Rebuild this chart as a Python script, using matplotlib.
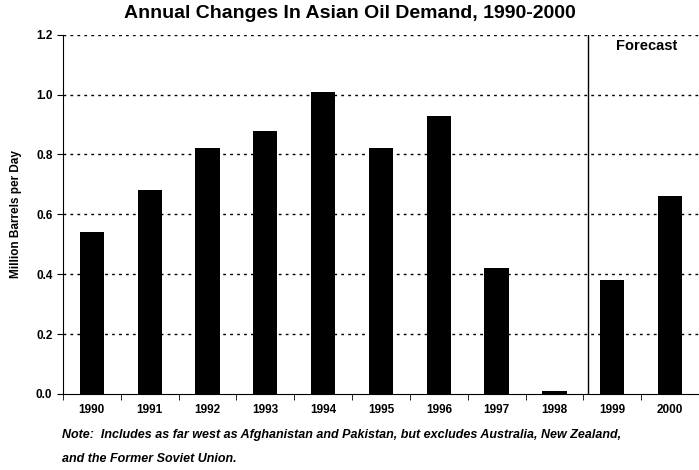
import matplotlib.pyplot as plt
import numpy as np

years = ['1990', '1991', '1992', '1993', '1994', '1995', '1996', '1997', '1998', '1999', '2000']
demand = [0.54, 0.68, 0.82, 0.88, 1.01, 0.82, 0.93, 0.42, 0.01, 0.38, 0.66]
yticks = [0.0, 0.2, 0.4, 0.6, 0.8, 1.0, 1.2]

plt.rcParams['font.family'] = ['Liberation Sans', 'DejaVu Sans']

fig = plt.figure(figsize=(6.99, 4.70), dpi=100)
ax = fig.add_axes([0.090, 0.162, 0.910, 0.764])

x = np.arange(len(years))
ax.bar(x, demand, width=0.42, color='black', zorder=3)

ax.set_xlim(-0.5, len(years) - 0.5)
ax.set_ylim(0, 1.2)
ax.set_yticks(yticks)
ax.set_yticklabels(['%.1f' % v for v in yticks], fontsize=8.5, fontweight='bold')
ax.set_xticks(x)
ax.set_xticklabels(years, fontsize=8.5, fontweight='bold')
ax.tick_params(axis='x', length=0, pad=7)
ax.set_xticks(np.arange(len(years) + 1) - 0.5, minor=True)
ax.tick_params(axis='x', which='minor', length=4, direction='out')
ax.tick_params(axis='y', length=4, direction='out')

for v in yticks[1:]:
    ax.axhline(v, color='black', linestyle=(0, (2, 3)), linewidth=1.0, zorder=1)

# forecast divider
ax.axvline(8.58, color='black', linewidth=1.0, zorder=2)
ax.text(9.6, 1.163, 'Forecast', fontsize=10.5, fontweight='bold', ha='center', va='center')

ax.spines['top'].set_visible(False)
ax.spines['right'].set_visible(False)

ax.set_ylabel('Million Barrels per Day', fontsize=8.5, fontweight='bold', labelpad=10)
fig.text(0.5, 0.972, 'Annual Changes In Asian Oil Demand, 1990-2000',
         fontsize=14, fontweight='bold', ha='center', va='center')
fig.text(0.088, 0.074, 'Note:  Includes as far west as Afghanistan and Pakistan, but excludes Australia, New Zealand,',
         fontsize=9, fontweight='bold', style='italic', ha='left', va='center')
fig.text(0.088, 0.023, 'and the Former Soviet Union.',
         fontsize=9, fontweight='bold', style='italic', ha='left', va='center')

fig.savefig('out.png', dpi=100)
